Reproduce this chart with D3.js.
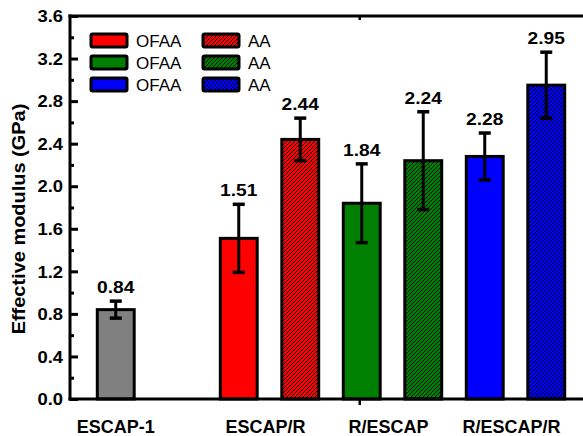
<!DOCTYPE html>
<html><head><meta charset="utf-8">
<script src="https://cdn.jsdelivr.net/npm/d3@7"></script>
<style>body{margin:0;background:#fff}svg{display:block}text{font-family:"Liberation Sans",Arial,sans-serif}</style>
</head><body>
<script>
// ---- data ----
const slots = ["ESCAP-1", "gap", "ESCAP/R-OFAA", "ESCAP/R-AA", "R/ESCAP-OFAA", "R/ESCAP-AA", "R/ESCAP/R-OFAA", "R/ESCAP/R-AA"];
const barKeys = ["ESCAP-1", "ESCAP/R-OFAA", "ESCAP/R-AA", "R/ESCAP-OFAA", "R/ESCAP-AA", "R/ESCAP/R-OFAA", "R/ESCAP/R-AA"];
const barValues = [0.84, 1.51, 2.44, 1.84, 2.24, 2.28, 2.95];
const barErrors = [0.08, 0.32, 0.20, 0.37, 0.46, 0.22, 0.31];
const barColors = ["#808080", "#ff0000", "#ff0000", "#008000", "#008000", "#0000ff", "#0000ff"];
const barHatched = [false, false, true, false, true, false, true];
const groupLabels = ["ESCAP-1", "ESCAP/R", "R/ESCAP", "R/ESCAP/R"];
const groupMembers = [["ESCAP-1"], ["ESCAP/R-OFAA", "ESCAP/R-AA"], ["R/ESCAP-OFAA", "R/ESCAP-AA"], ["R/ESCAP/R-OFAA", "R/ESCAP/R-AA"]];
const yTicks = [0, 0.4, 0.8, 1.2, 1.6, 2.0, 2.4, 2.8, 3.2, 3.6];
const yMinorTicks = [0.2, 0.6, 1.0, 1.4, 1.8, 2.2, 2.6, 3.0, 3.4];
const legendLabels = ["OFAA", "AA"];
const legendColors = ["#ff0000", "#008000", "#0000ff"];
const yTitle = "Effective modulus (GPa)";

const W = 583, H = 436;
const svg = d3.select("body").append("svg").attr("width", W).attr("height", H);
const defs = svg.append("defs");
const plotL = 70, plotR = 583, plotT = 16, plotB = 399;

const y = d3.scaleLinear().domain([0, 3.6]).range([plotB, plotT]);
const x = d3.scaleBand().domain(slots).range([85, 85 + 61.5 * slots.length]).paddingInner(0.4).paddingOuter(0.2);

// hatch patterns
function patId(c) { return "hatch" + c.replace("#", ""); }
legendColors.forEach(c => {
  const p = defs.append("pattern").attr("id", patId(c)).attr("patternUnits", "userSpaceOnUse")
    .attr("width", 4).attr("height", 4);
  p.append("rect").attr("width", 4).attr("height", 4).attr("fill", c);
  p.append("path").attr("d", "M-1,1 L1,-1 M0,4 L4,0 M3,5 L5,3").attr("stroke", "#000").attr("stroke-width", 1);
});

// bars
const bars = barKeys.map((k, i) => ({ k, v: barValues[i], e: barErrors[i], c: barColors[i], h: barHatched[i] }));
const g = svg.append("g");
g.selectAll("rect.bar").data(bars).join("rect").attr("class", "bar")
  .attr("x", d => x(d.k)).attr("width", x.bandwidth())
  .attr("y", d => y(d.v)).attr("height", d => y(0) - y(d.v))
  .attr("fill", d => d.h ? `url(#${patId(d.c)})` : d.c)
  .attr("stroke", "#000").attr("stroke-width", 3);

// error bars
const cx = d => x(d.k) + x.bandwidth() / 2;
g.selectAll("line.err").data(bars).join("line").attr("class", "err")
  .attr("x1", cx).attr("x2", cx).attr("y1", d => y(d.v + d.e)).attr("y2", d => y(d.v - d.e))
  .attr("stroke", "#000").attr("stroke-width", 3);
["top", "bot"].forEach(t => {
  g.selectAll("line.cap" + t).data(bars).join("line").attr("class", "cap" + t)
    .attr("x1", d => cx(d) - 6).attr("x2", d => cx(d) + 6)
    .attr("y1", d => y(t === "top" ? d.v + d.e : d.v - d.e)).attr("y2", d => y(t === "top" ? d.v + d.e : d.v - d.e))
    .attr("stroke", "#000").attr("stroke-width", 3.5);
});

// value labels
g.selectAll("text.val").data(bars).join("text").attr("class", "val")
  .attr("transform", d => `translate(${cx(d)},${y(d.v + d.e) - 8}) scale(1.13,1)`)
  .attr("text-anchor", "middle").attr("font-weight", "bold").attr("font-size", 17)
  .text(d => d.v.toFixed(2));

// y axis
const yAxis = d3.axisLeft(y).tickValues(yTicks).tickSize(-8).tickPadding(7).tickFormat(d3.format(".1f"));
const ya = svg.append("g").attr("transform", `translate(${plotL},0)`).call(yAxis);
ya.attr("font-size", null).attr("font-family", null);
ya.select(".domain").remove();
ya.selectAll(".tick line").attr("stroke-width", 3);
ya.selectAll(".tick text")
  .style("font-size", "16px").style("font-weight", "bold")
  .style("font-family", '"Liberation Sans",Arial,sans-serif').attr("fill", "#000")
  .attr("transform", "scale(1.15,1)").attr("x", -7 / 1.15).attr("dy", "0.36em");
const yMinor = d3.axisLeft(y).tickValues(yMinorTicks).tickSize(-4).tickFormat("");
const ym = svg.append("g").attr("transform", `translate(${plotL},0)`).call(yMinor);
ym.select(".domain").remove();
ym.selectAll(".tick line").attr("stroke-width", 3);

// frame lines
svg.append("line").attr("x1", plotL).attr("x2", plotL).attr("y1", plotT - 1.5).attr("y2", plotB + 1.5).attr("stroke", "#000").attr("stroke-width", 3);
svg.append("line").attr("x1", plotL - 1.5).attr("x2", plotR).attr("y1", plotB).attr("y2", plotB).attr("stroke", "#000").attr("stroke-width", 3);
svg.append("line").attr("x1", plotL - 1.5).attr("x2", plotR).attr("y1", plotT).attr("y2", plotT).attr("stroke", "#000").attr("stroke-width", 3);
// single x ticks
const midTickX = x("R/ESCAP-OFAA") + x.bandwidth() / 2 - 2;
svg.append("line").attr("x1", midTickX).attr("x2", midTickX).attr("y1", plotB).attr("y2", plotB + 6).attr("stroke", "#000").attr("stroke-width", 2.5);
svg.append("line").attr("x1", midTickX).attr("x2", midTickX).attr("y1", plotT).attr("y2", plotT + 4).attr("stroke", "#000").attr("stroke-width", 2.5);

// category labels
svg.selectAll("text.cat").data(groupLabels).join("text").attr("class", "cat")
  .attr("x", (d, i) => d3.mean(groupMembers[i], k => x(k) + x.bandwidth() / 2) - (groupMembers[i].length > 1 ? 4 : 0))
  .attr("y", 433).attr("text-anchor", "middle").attr("font-weight", "bold").attr("font-size", 18)
  .text(d => d);

// y title
svg.append("text").attr("transform", "translate(25,219) rotate(-90) scale(1.11,1)")
  .attr("text-anchor", "middle").attr("font-weight", "bold").attr("font-size", 18).text(yTitle);

// legend
const lg = svg.append("g");
legendColors.forEach((c, r) => {
  legendLabels.forEach((lab, col) => {
    const bx = col === 0 ? 91 : 203, by = 34 + r * 22;
    lg.append("rect").attr("x", bx).attr("y", by).attr("width", 36).attr("height", 13).attr("rx", 1.5)
      .attr("fill", col === 0 ? c : `url(#${patId(c)})`).attr("stroke", "#000").attr("stroke-width", 3);
    lg.append("text").attr("x", bx + 45).attr("y", by + 13).attr("font-size", 17).text(lab);
  });
});
</script>
</body></html>
